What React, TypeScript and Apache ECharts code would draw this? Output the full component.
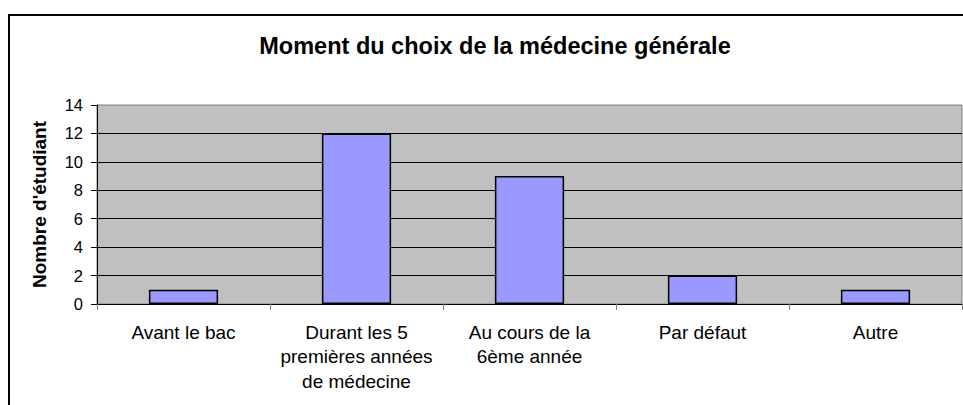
import React, { useEffect, useRef } from "react";
import * as echarts from "echarts";

const categories = [
  "Avant le bac",
  "Durant les 5\npremières années\nde médecine",
  "Au cours de la\n6ème année",
  "Par défaut",
  "Autre",
];
const values = [1, 12, 9, 2, 1];
const chartTitle = "Moment du choix de la médecine générale";
const yAxisName = "Nombre d'étudiant";

const FONT = "'Liberation Sans', Arial, sans-serif";

export default function App() {
  const ref = useRef<HTMLDivElement>(null);
  useEffect(() => {
    document.body.style.margin = "0";
    if (!ref.current) return;
    const chart = echarts.init(ref.current, null, { renderer: "svg" });
    chart.setOption({
      animation: false,
      backgroundColor: "#ffffff",
      textStyle: { fontFamily: FONT },
      title: {
        text: chartTitle,
        left: 490,
        top: 29,
        textAlign: "center",
        textStyle: { fontFamily: FONT, fontSize: 23.5, fontWeight: "bold", color: "#000" },
      },
      graphic: [
        {
          type: "rect",
          shape: { x: 9, y: 15, width: 1100, height: 1000 },
          style: { fill: "none", stroke: "#000", lineWidth: 2 },
          silent: true,
        },
      ],
      grid: {
        left: 97,
        top: 105,
        right: 1,
        bottom: 101,
        show: true,
        backgroundColor: "#c0c0c0",
        borderColor: "#808080",
        borderWidth: 1,
      },
      xAxis: {
        type: "category",
        data: categories,
        axisLine: { show: true, lineStyle: { color: "#000", width: 1 } },
        axisTick: { show: true, length: 6, lineStyle: { color: "#808080" } },
        axisLabel: {
          interval: 0,
          margin: 16,
          fontSize: 19,
          lineHeight: 24.5,
          color: "#000",
          fontFamily: FONT,
        },
      },
      yAxis: {
        type: "value",
        min: 0,
        max: 14,
        interval: 2,
        name: yAxisName,
        nameLocation: "middle",
        nameGap: 48,
        nameTextStyle: { fontFamily: FONT, fontSize: 19, fontWeight: "bold", color: "#000" },
        axisLine: { show: true, lineStyle: { color: "#000", width: 1 } },
        axisTick: { show: true, length: 6, lineStyle: { color: "#000" } },
        axisLabel: { margin: 14, fontSize: 16.5, color: "#000", fontFamily: FONT },
        splitLine: { show: true, showMaxLine: false, lineStyle: { color: "#000", width: 1 } },
      },
      series: [
        {
          type: "bar",
          data: values,
          barCategoryGap: "60%",
          itemStyle: { color: "#9999ff", borderColor: "#000", borderWidth: 1.5 },
        },
      ],
    });
    return () => chart.dispose();
  }, []);
  return <div ref={ref} style={{ width: 963, height: 405 }} />;
}
